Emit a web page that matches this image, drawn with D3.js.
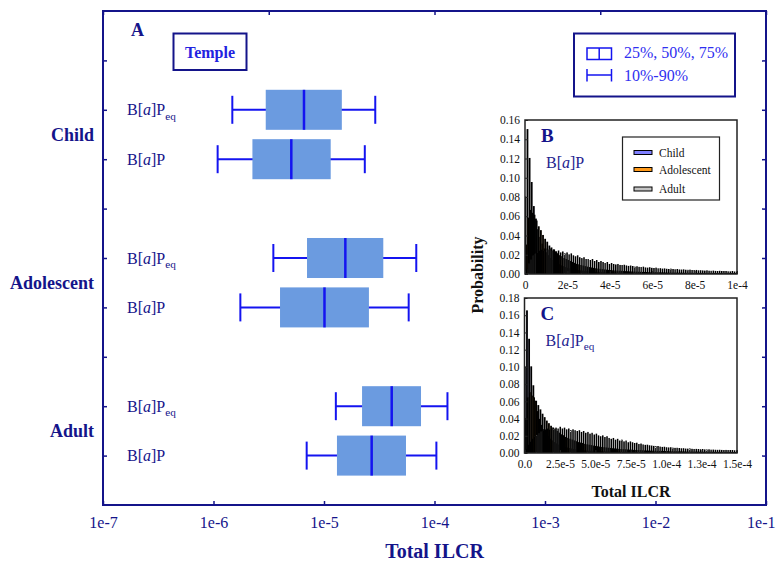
<!DOCTYPE html>
<html>
<head>
<meta charset="utf-8">
<script src="https://cdn.jsdelivr.net/npm/d3@7"></script>
<style>
  html, body { margin: 0; padding: 0; background: #fff; }
  svg { display: block; font-family: "Liberation Serif", "Times New Roman", serif; }
</style>
</head>
<body>
<svg id="chart" width="776" height="562"></svg>
<script>
// ---- Box plot data (Total ILCR percentiles) ----
const groups = ["Child", "Adolescent", "Adult"];
const groupPos = [2.5, 5.5, 8.5];
const rowPos = [2, 3, 5, 6, 8, 9];
const rowEq = [true, false, true, false, true, false];   // B[a]Peq vs B[a]P
const p10 = [1.48e-6, 1.09e-6, 3.48e-6, 1.75e-6, 1.28e-5, 6.97e-6];
const p25 = [2.97e-6, 2.25e-6, 7.02e-6, 4.00e-6, 2.21e-5, 1.31e-5];
const p50 = [6.59e-6, 5.06e-6, 1.56e-5, 1.01e-5, 4.10e-5, 2.70e-5];
const p75 = [1.45e-5, 1.15e-5, 3.44e-5, 2.55e-5, 7.55e-5, 5.52e-5];
const p90 = [2.91e-5, 2.34e-5, 6.84e-5, 5.84e-5, 1.31e-4, 1.04e-4];

const xTicks = [1e-7, 1e-6, 1e-5, 1e-4, 1e-3, 1e-2, 1e-1];
const xTickLabels = ["1e-7", "1e-6", "1e-5", "1e-4", "1e-3", "1e-2", "1e-1"];

// ---- Histogram data: probability per bin ----
const histSeries = ["Child", "Adolescent", "Adult"];
const histColors = ["#7f7fff", "#ff9a1a", "#c4c4c4"];

// Panel B: B[a]P, bin width 1e-6
const binB = 1e-6;
const bChild = [0.080,0.150,0.120,0.095,0.070,0.057,0.046,0.038,0.031,0.026,
0.022,0.019,0.016,0.014,0.012,0.011,0.0096,0.0084,0.0075,0.0066,
0.0059,0.0053,0.0048,0.0043,0.0039,0.0035,0.0032,0.0030,0.0027,0.0025,
0.0023,0.0021,0.0020,0.0018,0.0017,0.0016,0.0015,0.0014,0.0013,0.0012,
0.0012,0.0011,0.0010,0.0010,0.0009,0.0009,0.0008,0.0008,0.0008,0.0007,
0.0007,0.0007,0.0006,0.0006,0.0006,0.0006,0.0005,0.0005,0.0005,0.0005,
0.0005,0.0004,0.0004,0.0004,0.0004,0.0004,0.0004,0.0003,0.0003,0.0003,
0.0003,0.0003,0.0003,0.0003,0.0003,0.0002,0.0002,0.0002,0.0002,0.0002,
0.0002,0.0002,0.0002,0.0002,0.0002,0.0002,0.0002,0.0001,0.0001,0.0001,
0.0001,0.0001,0.0001,0.0001,0.0001,0.0001,0.0001,0.0001,0.0001,0.0001];
const bAdol = [0.030,0.058,0.066,0.063,0.061,0.055,0.049,0.045,0.040,0.036,
0.033,0.029,0.027,0.025,0.023,0.021,0.019,0.018,0.016,0.015,
0.014,0.013,0.012,0.011,0.010,0.0095,0.0088,0.0082,0.0076,0.0071,
0.0066,0.0062,0.0058,0.0054,0.0051,0.0048,0.0045,0.0042,0.0040,0.0037,
0.0035,0.0033,0.0031,0.0030,0.0028,0.0027,0.0025,0.0024,0.0023,0.0022,
0.0021,0.0020,0.0019,0.0018,0.0017,0.0016,0.0016,0.0015,0.0014,0.0014,
0.0013,0.0013,0.0012,0.0012,0.0011,0.0011,0.0010,0.0010,0.0010,0.0009,
0.0009,0.0009,0.0008,0.0008,0.0008,0.0007,0.0007,0.0007,0.0007,0.0006,
0.0006,0.0006,0.0006,0.0006,0.0005,0.0005,0.0005,0.0005,0.0005,0.0005,
0.0004,0.0004,0.0004,0.0004,0.0004,0.0004,0.0004,0.0003,0.0003,0.0003];
const bAdult = [0.005,0.011,0.015,0.019,0.021,0.022,0.024,0.025,0.024,0.026,
0.025,0.026,0.024,0.025,0.023,0.024,0.022,0.023,0.021,0.022,
0.020,0.021,0.019,0.018,0.019,0.017,0.016,0.017,0.015,0.015,
0.014,0.015,0.013,0.014,0.012,0.013,0.012,0.011,0.012,0.010,
0.011,0.010,0.0095,0.010,0.009,0.0088,0.0092,0.0085,0.008,0.0084,
0.0078,0.0072,0.0076,0.007,0.0068,0.0072,0.0064,0.0062,0.0066,0.006,
0.0058,0.0062,0.0055,0.0056,0.0052,0.0054,0.005,0.0048,0.0051,0.0046,
0.0045,0.0047,0.0043,0.0042,0.0044,0.004,0.0039,0.0041,0.0037,0.0036,
0.0038,0.0034,0.0035,0.0033,0.0031,0.0034,0.003,0.0029,0.0031,0.0028,
0.0027,0.0029,0.0026,0.0025,0.0027,0.0024,0.0023,0.0025,0.0022,0.0021];

// Panel C: B[a]Peq, bin width 1.5e-6
const binC = 1.5e-6;
const cChild = [0.100,0.165,0.132,0.100,0.078,0.060,0.048,0.039,0.032,0.027,
0.023,0.019,0.016,0.014,0.012,0.0105,0.0092,0.0081,0.0072,0.0064,
0.0057,0.0051,0.0046,0.0041,0.0037,0.0034,0.0031,0.0028,0.0026,0.0024,
0.0022,0.0020,0.0019,0.0017,0.0016,0.0015,0.0014,0.0013,0.0012,0.0011,
0.0011,0.0010,0.0009,0.0009,0.0008,0.0008,0.0007,0.0007,0.0007,0.0006,
0.0006,0.0006,0.0005,0.0005,0.0005,0.0005,0.0004,0.0004,0.0004,0.0004,
0.0004,0.0003,0.0003,0.0003,0.0003,0.0003,0.0003,0.0003,0.0002,0.0002,
0.0002,0.0002,0.0002,0.0002,0.0002,0.0002,0.0002,0.0002,0.0001,0.0001,
0.0001,0.0001,0.0001,0.0001,0.0001,0.0001,0.0001,0.0001,0.0001,0.0001,
0.0001,0.0001,0.0001,0.0001,0.0001,0.0001,0.0001,0.0001,0.0001,0.0001];
const cAdol = [0.040,0.064,0.070,0.066,0.064,0.060,0.055,0.050,0.045,0.041,
0.037,0.034,0.031,0.029,0.027,0.025,0.023,0.021,0.020,0.018,
0.017,0.016,0.015,0.014,0.013,0.012,0.0115,0.011,0.010,0.0095,
0.009,0.0085,0.008,0.0076,0.0072,0.0068,0.0064,0.0061,0.0058,0.0055,
0.0052,0.0049,0.0047,0.0045,0.0042,0.004,0.0038,0.0037,0.0035,0.0033,
0.0032,0.003,0.0029,0.0028,0.0027,0.0025,0.0024,0.0023,0.0022,0.0021,
0.0021,0.002,0.0019,0.0018,0.0018,0.0017,0.0016,0.0016,0.0015,0.0015,
0.0014,0.0014,0.0013,0.0013,0.0012,0.0012,0.0011,0.0011,0.0011,0.001,
0.001,0.001,0.0009,0.0009,0.0009,0.0008,0.0008,0.0008,0.0008,0.0007,
0.0007,0.0007,0.0007,0.0006,0.0006,0.0006,0.0006,0.0006,0.0005,0.0005];
const cAdult = [0.004,0.009,0.013,0.016,0.019,0.021,0.023,0.025,0.026,0.027,
0.028,0.027,0.029,0.028,0.029,0.028,0.030,0.028,0.029,0.027,
0.028,0.026,0.027,0.026,0.025,0.026,0.024,0.025,0.023,0.024,
0.022,0.023,0.021,0.022,0.020,0.019,0.020,0.018,0.019,0.017,
0.016,0.017,0.015,0.016,0.014,0.015,0.013,0.014,0.012,0.013,
0.012,0.011,0.0115,0.010,0.0105,0.0095,0.009,0.0092,0.0085,0.0082,
0.0078,0.0074,0.0076,0.007,0.0066,0.0068,0.0062,0.006,0.0062,0.0057,
0.0055,0.0056,0.0052,0.005,0.0051,0.0047,0.0046,0.0048,0.0044,0.0042,
0.0043,0.004,0.0039,0.0041,0.0037,0.0036,0.0038,0.0034,0.0035,0.0033,
0.0032,0.0033,0.0031,0.003,0.0031,0.0029,0.0028,0.0029,0.0027,0.0026];

const bXTicks = [0, 2e-5, 4e-5, 6e-5, 8e-5, 1e-4];
const bXLabels = ["0", "2e-5", "4e-5", "6e-5", "8e-5", "1e-4"];
const bYTicks = [0, 0.02, 0.04, 0.06, 0.08, 0.10, 0.12, 0.14, 0.16];
const cXTicks = [0, 2.5e-5, 5e-5, 7.5e-5, 1e-4, 1.25e-4, 1.5e-4];
const cXLabels = ["0.0", "2.5e-5", "5.0e-5", "7.5e-5", "1.0e-4", "1.3e-4", "1.5e-4"];
const cYTicks = [0, 0.02, 0.04, 0.06, 0.08, 0.10, 0.12, 0.14, 0.16, 0.18];

// ---- Styles ----
const NAVY = "#14148a";
const BLUE = "#1414f0";
const BOXFILL = "#6b9be0";

const svg = d3.select("#chart");

// ---- Main panel A ----
const x = d3.scaleLog().domain([1e-7, 1e-1]).range([103, 766]);
const y = d3.scaleLinear().domain([0, 10]).range([11, 505]);
const xTop = d3.scaleLinear().domain([0, 4]).range([103, 766]);

const main = svg.append("g");

// bottom axis with inward ticks
const bottomAxis = main.append("g").attr("transform", `translate(0,${y(10)})`)
  .call(d3.axisBottom(x).tickValues(xTicks).tickSize(-4).tickSizeOuter(0)
    .tickFormat((d, i) => xTickLabels[i]).tickPadding(12));
bottomAxis.selectAll("text").attr("font-size", 16).attr("fill", NAVY)
  .attr("font-family", "Liberation Serif");
// last label sits against the right edge of the page
bottomAxis.selectAll(".tick").filter(d => d === 1e-1).select("text")
  .attr("text-anchor", "end").attr("x", 9);
bottomAxis.selectAll("line").attr("stroke", NAVY).attr("stroke-width", 1.5);
bottomAxis.select(".domain").remove();

// top axis (unlabelled)
const topAxis = main.append("g").attr("transform", `translate(0,${y(0)})`)
  .call(d3.axisTop(xTop).ticks(4).tickSize(-4).tickSizeOuter(0).tickFormat(""));
topAxis.selectAll("line").attr("stroke", NAVY).attr("stroke-width", 1.5);
topAxis.select(".domain").remove();

// left / right axes with inward ticks
const yTickVals = d3.range(1, 10);
const leftAxis = main.append("g").attr("transform", `translate(${x(1e-7)},0)`)
  .call(d3.axisLeft(y).tickValues(yTickVals).tickSize(-4).tickFormat(""));
leftAxis.selectAll("line").attr("stroke", NAVY).attr("stroke-width", 1.5);
leftAxis.select(".domain").remove();
const rightAxis = main.append("g").attr("transform", `translate(${x(1e-1)},0)`)
  .call(d3.axisRight(y).tickValues(yTickVals).tickSize(-4).tickFormat(""));
rightAxis.selectAll("line").attr("stroke", NAVY).attr("stroke-width", 1.5);
rightAxis.select(".domain").remove();

// frame
main.append("rect")
  .attr("x", x(1e-7)).attr("y", y(0))
  .attr("width", x(1e-1) - x(1e-7)).attr("height", y(10) - y(0))
  .attr("fill", "none").attr("stroke", NAVY).attr("stroke-width", 2);

// x title
main.append("text").attr("x", (x(1e-7) + x(1e-1)) / 2).attr("y", 558)
  .attr("text-anchor", "middle").attr("font-size", 20).attr("font-weight", "bold")
  .attr("fill", NAVY).text("Total ILCR");

// group labels
main.selectAll("text.group").data(groups).join("text").attr("class", "group")
  .attr("x", 94).attr("y", (d, i) => y(groupPos[i]) + 6)
  .attr("text-anchor", "end").attr("font-size", 18).attr("font-weight", "bold")
  .attr("fill", NAVY).text(d => d);

// row labels B[a]P / B[a]Peq
function compoundLabel(sel, eq, size) {
  sel.append("tspan").text("B[");
  sel.append("tspan").attr("font-style", "italic").text("a");
  sel.append("tspan").text("]P");
  if (eq) sel.append("tspan").attr("font-size", size * 0.7).attr("dy", size * 0.28).text("eq");
}
rowPos.forEach((p, i) => {
  const t = main.append("text").attr("x", 127).attr("y", y(p) + 5.5)
    .attr("font-size", 16).attr("fill", NAVY);
  compoundLabel(t, rowEq[i], 16);
});

// boxes
const halfBox = (y(1) - y(0)) * 0.405;
const halfCap = 14;
const rows = rowPos.map((p, i) => ({ p, lo: p10[i], q1: p25[i], med: p50[i], q3: p75[i], hi: p90[i] }));
const boxG = main.selectAll("g.box").data(rows).join("g").attr("class", "box");
boxG.append("line").attr("x1", d => x(d.lo)).attr("x2", d => x(d.hi))
  .attr("y1", d => y(d.p)).attr("y2", d => y(d.p)).attr("stroke", BLUE).attr("stroke-width", 2);
boxG.append("rect").attr("x", d => x(d.q1)).attr("width", d => x(d.q3) - x(d.q1))
  .attr("y", d => y(d.p) - halfBox).attr("height", 2 * halfBox).attr("fill", BOXFILL);
boxG.append("line").attr("x1", d => x(d.med)).attr("x2", d => x(d.med))
  .attr("y1", d => y(d.p) - halfBox).attr("y2", d => y(d.p) + halfBox)
  .attr("stroke", BLUE).attr("stroke-width", 2.5);
["lo", "hi"].forEach(k => {
  boxG.append("line").attr("x1", d => x(d[k])).attr("x2", d => x(d[k]))
    .attr("y1", d => y(d.p) - halfCap).attr("y2", d => y(d.p) + halfCap)
    .attr("stroke", BLUE).attr("stroke-width", 2);
});

// panel letter + site box
main.append("text").attr("x", 131).attr("y", 36).attr("font-size", 18)
  .attr("font-weight", "bold").attr("fill", NAVY).text("A");
main.append("rect").attr("x", 173.5).attr("y", 33.5).attr("width", 73).attr("height", 36.5)
  .attr("fill", "#fff").attr("stroke", NAVY).attr("stroke-width", 2);
main.append("text").attr("x", 210).attr("y", 58).attr("text-anchor", "middle")
  .attr("font-size", 16).attr("font-weight", "bold").attr("fill", "#2222e0").text("Temple");

// percentile legend
const lg = main.append("g");
lg.append("rect").attr("x", 574).attr("y", 33.5).attr("width", 161).attr("height", 63)
  .attr("fill", "#fff").attr("stroke", NAVY).attr("stroke-width", 2);
lg.append("rect").attr("x", 587).attr("y", 48).attr("width", 24.5).attr("height", 11.5)
  .attr("fill", "none").attr("stroke", BLUE).attr("stroke-width", 1.5);
lg.append("line").attr("x1", 599.2).attr("x2", 599.2).attr("y1", 48).attr("y2", 59.5)
  .attr("stroke", BLUE).attr("stroke-width", 1.5);
lg.append("line").attr("x1", 587).attr("x2", 611.5).attr("y1", 75).attr("y2", 75)
  .attr("stroke", BLUE).attr("stroke-width", 1.5);
[587, 611.5].forEach(px => lg.append("line").attr("x1", px).attr("x2", px)
  .attr("y1", 69).attr("y2", 81.5).attr("stroke", BLUE).attr("stroke-width", 1.5));
lg.append("text").attr("x", 624).attr("y", 58).attr("font-size", 16).attr("fill", "#3030f0")
  .text("25%, 50%, 75%");
lg.append("text").attr("x", 624).attr("y", 80.5).attr("font-size", 16).attr("fill", "#3030f0")
  .text("10%-90%");

// ---- Histogram insets ----
function inset(cfg) {
  const g = svg.append("g");
  const hx = d3.scaleLinear().domain(cfg.xDomain).range([cfg.x0, cfg.x1]);
  const hy = d3.scaleLinear().domain(cfg.yDomain).range([cfg.y1, cfg.y0]);
  g.append("rect").attr("x", cfg.x0).attr("y", cfg.y0)
    .attr("width", cfg.x1 - cfg.x0).attr("height", cfg.y1 - cfg.y0).attr("fill", "#fff");

  const clipId = "clip" + cfg.id;
  g.append("clipPath").attr("id", clipId).append("rect")
    .attr("x", cfg.x0).attr("y", cfg.y0).attr("width", cfg.x1 - cfg.x0).attr("height", cfg.y1 - cfg.y0);

  const bins = [];
  cfg.series.forEach((vals, s) => vals.forEach((v, i) => bins.push({ s, i, v })));
  const sub = cfg.bin / 3;
  g.append("g").attr("clip-path", `url(#${clipId})`)
    .selectAll("rect").data(bins).join("rect")
    .attr("x", d => hx(d.i * cfg.bin + d.s * sub))
    .attr("width", d => hx(sub) - hx(0))
    .attr("y", d => hy(d.v))
    .attr("height", d => hy(0) - hy(d.v))
    .attr("fill", d => histColors[d.s])
    .attr("stroke", "#000").attr("stroke-width", d => d.s === 2 ? 0.8 : 1.1);

  // axes
  const ax = g.append("g").attr("transform", `translate(0,${cfg.y1})`)
    .call(d3.axisBottom(hx).tickValues(cfg.xTicks).tickSize(-3).tickSizeOuter(0)
      .tickFormat((d, i) => cfg.xLabels[i]).tickPadding(7));
  const ay = g.append("g").attr("transform", `translate(${cfg.x0},0)`)
    .call(d3.axisLeft(hy).tickValues(cfg.yTicks).tickSize(-3).tickSizeOuter(0)
      .tickFormat(d3.format(".2f")).tickPadding(5));
  [ax, ay].forEach(a => {
    a.select(".domain").remove();
    a.selectAll("line").attr("stroke", "#222");
    a.selectAll("text").attr("font-size", 11.5).attr("fill", "#111")
      .attr("font-family", "Liberation Serif");
  });

  g.append("rect").attr("x", cfg.x0).attr("y", cfg.y0)
    .attr("width", cfg.x1 - cfg.x0).attr("height", cfg.y1 - cfg.y0)
    .attr("fill", "none").attr("stroke", "#222").attr("stroke-width", 1.5);

  g.append("text").attr("x", cfg.x0 + 16).attr("y", cfg.y0 + 22).attr("font-size", 19)
    .attr("font-weight", "bold").attr("fill", NAVY).text(cfg.letter);
  const t = g.append("text").attr("x", cfg.x0 + 21).attr("y", cfg.y0 + 48)
    .attr("font-size", 16).attr("fill", "#23238f");
  compoundLabel(t, cfg.eq, 16);
  return { g, hx, hy };
}

const B = inset({ id: "B", letter: "B", eq: false, x0: 525, x1: 737, y0: 120, y1: 274,
  xDomain: [0, 1e-4], yDomain: [0, 0.16], bin: binB, series: [bChild, bAdol, bAdult],
  xTicks: bXTicks, xLabels: bXLabels, yTicks: bYTicks });
const C = inset({ id: "C", letter: "C", eq: true, x0: 524.5, x1: 737, y0: 298, y1: 453,
  xDomain: [0, 1.5e-4], yDomain: [0, 0.18], bin: binC, series: [cChild, cAdol, cAdult],
  xTicks: cXTicks, xLabels: cXLabels, yTicks: cYTicks });

// series legend in panel B
const sl = B.g.append("g");
sl.append("rect").attr("x", 622.5).attr("y", 137).attr("width", 97).attr("height", 63)
  .attr("fill", "#fff").attr("stroke", "#222").attr("stroke-width", 1.2);
histSeries.forEach((s, i) => {
  const yy = [152.5, 169.5, 189][i];
  sl.append("rect").attr("x", 634).attr("y", yy - 2).attr("width", 18).attr("height", 4)
    .attr("fill", histColors[i]).attr("stroke", "#000").attr("stroke-width", 1);
  sl.append("text").attr("x", 659).attr("y", yy + 4).attr("font-size", 11.5).attr("fill", "#111").text(s);
});

// shared inset titles
svg.append("text").attr("x", 631).attr("y", 497).attr("text-anchor", "middle")
  .attr("font-size", 16).attr("font-weight", "bold").attr("fill", "#111").text("Total ILCR");
svg.append("text").attr("transform", "translate(483,275) rotate(-90)")
  .attr("text-anchor", "middle").attr("font-size", 16).attr("font-weight", "bold")
  .attr("fill", "#111").text("Probability");
</script>
</body>
</html>
